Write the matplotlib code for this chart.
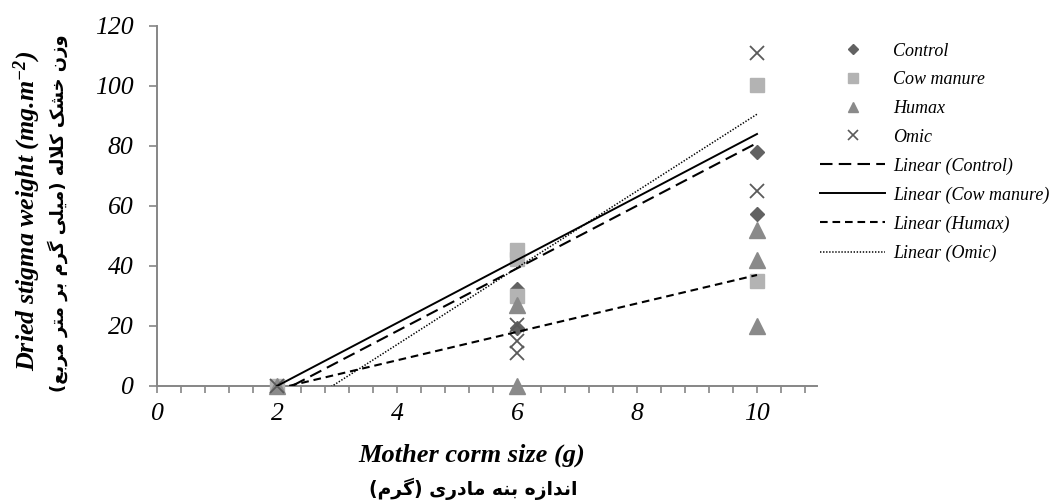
import numpy as np
import matplotlib
matplotlib.use("Agg")
import matplotlib.pyplot as plt
from matplotlib.lines import Line2D

plt.rcParams['lines.scale_dashes'] = False
plt.rcParams['mathtext.fontset'] = 'custom'
plt.rcParams['mathtext.rm'] = 'Liberation Serif:bold:italic'
plt.rcParams['mathtext.it'] = 'Liberation Serif:bold:italic'
plt.rcParams['mathtext.bf'] = 'Liberation Serif:bold:italic'

# ---------------- data ----------------
series_names = ["Control", "Cow manure", "Humax", "Omic"]
control_x = [2, 6, 6, 10, 10]
control_y = [0, 32.5, 19.5, 78, 57.5]
cow_x = [2, 6, 6, 6, 10, 10]
cow_y = [0, 45.5, 42.5, 30, 100.5, 35]
humax_x = [2, 6, 6, 10, 10, 10]
humax_y = [0, 27, 0, 52, 42, 20]
omic_x = [2, 6, 6, 6, 10, 10]
omic_y = [0, 20.5, 15, 11, 111, 65]

# linear trendlines (slope, intercept), over x range 2..10
trend_slopes = [10.45, 10.5, 4.74, 12.8]
trend_intercepts = [-23.5, -21.0, -10.4, -37.4]
trend_range = [2, 10]

x_tick_labels = [0, 2, 4, 6, 8, 10]
y_tick_labels = [0, 20, 40, 60, 80, 100, 120]

xlabel_en = "Mother corm size (g)"
xlabel_fa = "اندازه بنه مادری (گرم)"
ylabel_en = r"Dried stigma weight (mg.m$^{-2}$)"
ylabel_fa = "وزن خشک کلاله (میلی گرم بر متر مربع)"

# ---------------- Persian shaping (presentation forms, visual order) ----------------
FORMS = {
    'ا': ('\uFE8D', '\uFE8E', None, None),
    'ب': ('\uFE8F', '\uFE90', '\uFE91', '\uFE92'),
    'ت': ('\uFE95', '\uFE96', '\uFE97', '\uFE98'),
    'خ': ('\uFEA5', '\uFEA6', '\uFEA7', '\uFEA8'),
    'د': ('\uFEA9', '\uFEAA', None, None),
    'ر': ('\uFEAD', '\uFEAE', None, None),
    'ز': ('\uFEAF', '\uFEB0', None, None),
    'ش': ('\uFEB5', '\uFEB6', '\uFEB7', '\uFEB8'),
    'ع': ('\uFEC9', '\uFECA', '\uFECB', '\uFECC'),
    'ل': ('\uFEDD', '\uFEDE', '\uFEDF', '\uFEE0'),
    'م': ('\uFEE1', '\uFEE2', '\uFEE3', '\uFEE4'),
    'ن': ('\uFEE5', '\uFEE6', '\uFEE7', '\uFEE8'),
    'ه': ('\uFEE9', '\uFEEA', '\uFEEB', '\uFEEC'),
    'و': ('\uFEED', '\uFEEE', None, None),
    'ک': ('\uFB8E', '\uFB8F', '\uFB90', '\uFB91'),
    'گ': ('\uFB92', '\uFB93', '\uFB94', '\uFB95'),
    'ی': ('\uFBFC', '\uFBFD', '\uFBFE', '\uFBFF'),
}


def shape_fa(text):
    chars = list(text)
    n = len(chars)
    res = []
    i = 0

    def joins_left(c):
        f = FORMS.get(c)
        return f is not None and f[2] is not None

    while i < n:
        c = chars[i]
        prev_joins = i > 0 and joins_left(chars[i - 1])
        if c == 'ل' and i + 1 < n and chars[i + 1] == 'ا':
            res.append('\uFEFC' if prev_joins else '\uFEFB')
            i += 2
            continue
        if c in FORMS:
            iso, fin, ini, med = FORMS[c]
            nxt = chars[i + 1] if i + 1 < n else None
            next_joins = nxt is not None and nxt in FORMS and ini is not None
            if prev_joins and next_joins:
                g = med
            elif prev_joins:
                g = fin
            elif next_joins:
                g = ini
            else:
                g = iso
            res.append(g)
        else:
            res.append(c)
        i += 1
    vis = ''.join(res)[::-1]
    return vis.translate(str.maketrans('()', ')('))


# ---------------- figure ----------------
W, H = 1053, 504
fig = plt.figure(figsize=(W / 100, H / 100), dpi=100)
ax = fig.add_axes([157 / W, (H - 386) / H, 660 / W, 360 / H])

axis_col = '#868686'
serif = 'Liberation Serif'

ax.plot(control_x, control_y, linestyle='none', marker='D', ms=7.6,
        color='#626262', mec='#626262', zorder=3, clip_on=False)
ax.plot(cow_x, cow_y, linestyle='none', marker='s', ms=10.5,
        color='#b3b3b3', mec='#b3b3b3', zorder=3, clip_on=False)
ax.plot(humax_x, humax_y, linestyle='none', marker='^', ms=11,
        color='#8a8a8a', mec='#8a8a8a', zorder=3, clip_on=False)
ax.plot(omic_x, omic_y, linestyle='none', marker='x', ms=9.5, mew=1.3,
        color='#5a5a5a', zorder=3, clip_on=False)

trend_styles = [(0, (9, 4.5)), '-', (0, (5.5, 3.5)), (0, (1.0, 1.2))]
trend_widths = [1.5, 1.4, 1.5, 1.1]
tx = np.array(trend_range, dtype=float)
for s, b, ls, lw in zip(trend_slopes, trend_intercepts, trend_styles, trend_widths):
    ax.plot(tx, s * tx + b, color='black', linestyle=ls, lw=lw, zorder=4)

ax.set_xlim(0, 11)
ax.set_ylim(0, 120)
for sp in ['top', 'right']:
    ax.spines[sp].set_visible(False)
for sp in ['left', 'bottom']:
    ax.spines[sp].set_color(axis_col)
    ax.spines[sp].set_linewidth(1.4)
    ax.spines[sp].set_zorder(2)

ax.set_xticks(x_tick_labels)
ax.set_xticklabels([str(v) for v in x_tick_labels])
ax.set_xticks(np.arange(0, 11, 0.4), minor=True)
ax.set_yticks(y_tick_labels)
ax.set_yticklabels([str(v) for v in y_tick_labels])
ax.tick_params(axis='x', which='both', direction='out', length=5, width=1.2,
               color=axis_col, pad=7)
ax.tick_params(axis='y', which='both', direction='out', length=6, width=1.2,
               color=axis_col, pad=11)
for lab in ax.get_xticklabels() + ax.get_yticklabels():
    lab.set_fontfamily(serif)
    lab.set_fontstyle('italic')
    lab.set_fontsize(18.5)
    lab.set_color('black')

# axis titles
fig.text(472 / W, 1 - 455 / H, xlabel_en, ha='center', va='center',
         fontfamily=serif, fontstyle='italic', fontweight='bold', fontsize=19)
fig.text(473 / W, 1 - 489 / H, shape_fa(xlabel_fa), ha='center', va='center',
         fontfamily='DejaVu Sans', fontweight='bold', fontsize=13.5)
fig.text(27 / W, 1 - 211 / H, ylabel_en, ha='center', va='center', rotation=90,
         fontfamily=serif, fontstyle='italic', fontweight='bold', fontsize=18.7)
fig.text(58 / W, 1 - 213 / H, shape_fa(ylabel_fa), ha='center', va='center',
         rotation=90, fontfamily='DejaVu Sans', fontweight='bold', fontsize=13)

# legend
handles = [
    Line2D([], [], linestyle='none', marker='D', ms=5.5, color='#626262'),
    Line2D([], [], linestyle='none', marker='s', ms=7, color='#b3b3b3'),
    Line2D([], [], linestyle='none', marker='^', ms=7.5, color='#8a8a8a'),
    Line2D([], [], linestyle='none', marker='x', ms=7, mew=1.2, color='#5a5a5a'),
]
for ls, lw in zip(trend_styles, trend_widths):
    handles.append(Line2D([], [], color='black', linestyle=ls, lw=lw))
labels = series_names + ["Linear (%s)" % n for n in series_names]
leg = fig.legend(handles, labels, loc='upper left',
                 bbox_to_anchor=(820 / W, 1 - 42.5 / H), frameon=False,
                 borderaxespad=0, borderpad=0, handlelength=3.6,
                 handletextpad=0.44, labelspacing=0.65,
                 prop={'family': serif, 'style': 'italic', 'size': 13})

fig.savefig('out.png', dpi=100)
